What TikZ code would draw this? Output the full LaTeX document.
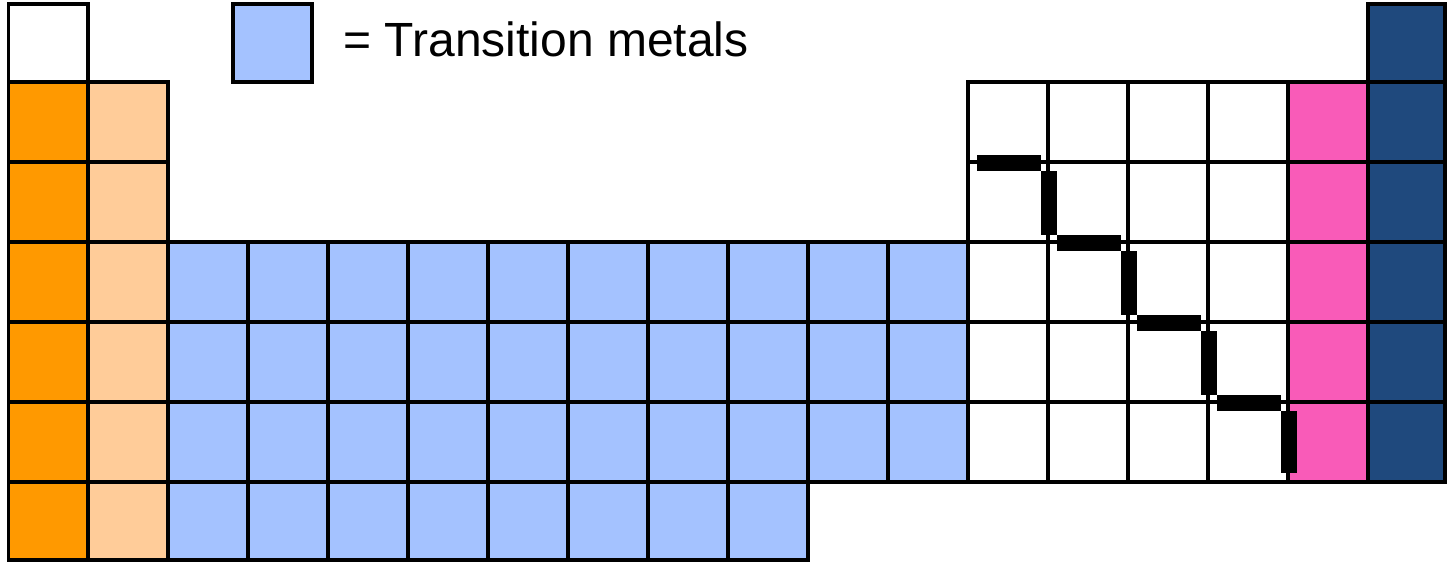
\documentclass[tikz,border=0pt]{standalone}
\usepackage{fontspec}
\setmainfont{Liberation Sans}
\definecolor{alkali}{HTML}{FF9900}
\definecolor{alkearth}{HTML}{FFCC99}
\definecolor{transmetal}{HTML}{A4C2FF}
\definecolor{halogen}{HTML}{F95BB8}
\definecolor{noblegas}{HTML}{1F497D}
% one square of the table: column, row, fill colour
\newcommand{\elemcell}[3]{%
  \pgfmathsetmacro\elL{max(8.5,8+80*(#1-1))}%
  \pgfmathsetmacro\elR{min(1445,8+80*#1)}%
  \pgfmathsetmacro\elT{max(4,2+80*(#2-1))}%
  \pgfmathsetmacro\elB{min(560,2+80*#2)}%
  \filldraw[cellborder,fill=#3] (\elL,\elT) rectangle (\elR,\elB);}
\begin{document}
\begin{tikzpicture}[x=0.5pt,y=-0.5pt,
  cellborder/.style={draw=black,line width=1.9pt},
  metalline/.style={draw=black,line width=8pt,line cap=butt}]
\useasboundingbox (0,0) rectangle (1449,562);
% hydrogen and the s block
\elemcell{1}{1}{white}
\foreach \r in {2,...,7} {\elemcell{1}{\r}{alkali}\elemcell{2}{\r}{alkearth}}
% d block
\foreach \c in {3,...,12} {\foreach \r in {4,5,6} {\elemcell{\c}{\r}{transmetal}}}
\foreach \c in {3,...,10} {\elemcell{\c}{7}{transmetal}}
% p block
\foreach \c in {13,...,16} {\foreach \r in {2,...,6} {\elemcell{\c}{\r}{white}}}
\foreach \r in {2,...,6} {\elemcell{17}{\r}{halogen}}
\foreach \r in {1,...,6} {\elemcell{18}{\r}{noblegas}}
% metal / non-metal staircase
\draw[metalline] (977,163) -- (1041,163);
\draw[metalline] (1049,171) -- (1049,235);
\draw[metalline] (1057,243) -- (1121,243);
\draw[metalline] (1129,251) -- (1129,315);
\draw[metalline] (1137,323) -- (1201,323);
\draw[metalline] (1209,331) -- (1209,395);
\draw[metalline] (1217,403) -- (1281,403);
\draw[metalline] (1289,411) -- (1289,473);
% legend
\filldraw[cellborder,fill=transmetal] (233,4) rectangle (312,82);
\node[anchor=base west,inner sep=0pt,font=\fontsize{24pt}{28pt}\selectfont] (legendtext) at (343,56) {= Transition metals};
\end{tikzpicture}
\end{document}
